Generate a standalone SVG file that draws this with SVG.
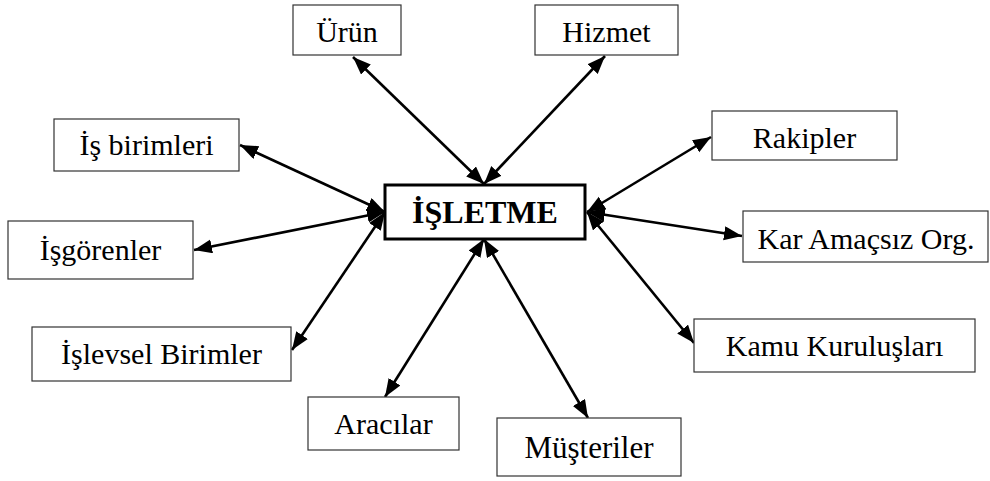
<svg xmlns="http://www.w3.org/2000/svg" width="990" height="481" viewBox="0 0 990 481">
  <style>
    .box { fill: #ffffff; stroke: #333333; stroke-width: 1.2; }
    .main { fill: #ffffff; stroke: #000000; stroke-width: 3; }
    .lbl { font-size: 30px; fill: #000000; text-anchor: middle; }
    .mlbl { font-size: 32px; font-weight: bold; fill: #000000; text-anchor: middle; }
    .conn { stroke: #000000; stroke-width: 2.6; fill: none; marker-start: url(#ah); marker-end: url(#ah); }
  </style>
  <defs>
    <marker id="ah" markerUnits="userSpaceOnUse" markerWidth="20" markerHeight="16" refX="18" refY="7" orient="auto-start-reverse">
      <path d="M0,0 L18,7 L0,14 z" fill="#000000"/>
    </marker>
  </defs>
  <rect width="990" height="481" fill="#ffffff"/>

  <g id="connectors">
    <line class="conn" x1="484" y1="184" x2="353" y2="57"/>
    <line class="conn" x1="484" y1="184" x2="605" y2="56"/>
    <line class="conn" x1="385" y1="212" x2="240" y2="145"/>
    <line class="conn" x1="385" y1="212" x2="194" y2="250"/>
    <line class="conn" x1="385" y1="212" x2="292" y2="350"/>
    <line class="conn" x1="587" y1="212" x2="711" y2="137"/>
    <line class="conn" x1="587" y1="212" x2="742" y2="236"/>
    <line class="conn" x1="587" y1="212" x2="694" y2="343"/>
    <line class="conn" x1="484" y1="239" x2="385" y2="397"/>
    <line class="conn" x1="484" y1="239" x2="588" y2="418"/>
  </g>

  <g font-family="'Liberation Serif', 'Times New Roman', 'DejaVu Serif', serif">
  <g id="isletme">
    <rect class="main" x="385" y="185" width="200" height="54"/>
    <text class="mlbl" x="485" y="223">İŞLETME</text>
  </g>
  <g id="urun">
    <rect class="box" x="293" y="5" width="108" height="50"/>
    <text class="lbl" x="347" y="42">Ürün</text>
  </g>
  <g id="hizmet">
    <rect class="box" x="535" y="5" width="143" height="50"/>
    <text class="lbl" x="606.5" y="42">Hizmet</text>
  </g>
  <g id="is-birimleri">
    <rect class="box" x="54" y="119" width="185" height="52"/>
    <text class="lbl" x="146.5" y="155">İş birimleri</text>
  </g>
  <g id="isgorenler">
    <rect class="box" x="8" y="221" width="185" height="58"/>
    <text class="lbl" x="100.5" y="260">İşgörenler</text>
  </g>
  <g id="islevsel-birimler">
    <rect class="box" x="32" y="327" width="259" height="54"/>
    <text class="lbl" x="161.5" y="364">İşlevsel Birimler</text>
  </g>
  <g id="rakipler">
    <rect class="box" x="712" y="111" width="185" height="49"/>
    <text class="lbl" x="804.5" y="148">Rakipler</text>
  </g>
  <g id="kar-amacsiz">
    <rect class="box" x="743" y="211" width="245" height="51"/>
    <text class="lbl" x="866" y="249">Kar Amaçsız Org.</text>
  </g>
  <g id="kamu">
    <rect class="box" x="694" y="319" width="281" height="53"/>
    <text class="lbl" x="834.5" y="356">Kamu Kuruluşları</text>
  </g>
  <g id="aracilar">
    <rect class="box" x="308" y="397" width="151" height="53"/>
    <text class="lbl" x="383.5" y="434">Aracılar</text>
  </g>
  <g id="musteriler">
    <rect class="box" x="497" y="418" width="184" height="58"/>
    <text class="lbl" x="589" y="458" style="font-size:31px">Müşteriler</text>
  </g>
  </g>
</svg>
